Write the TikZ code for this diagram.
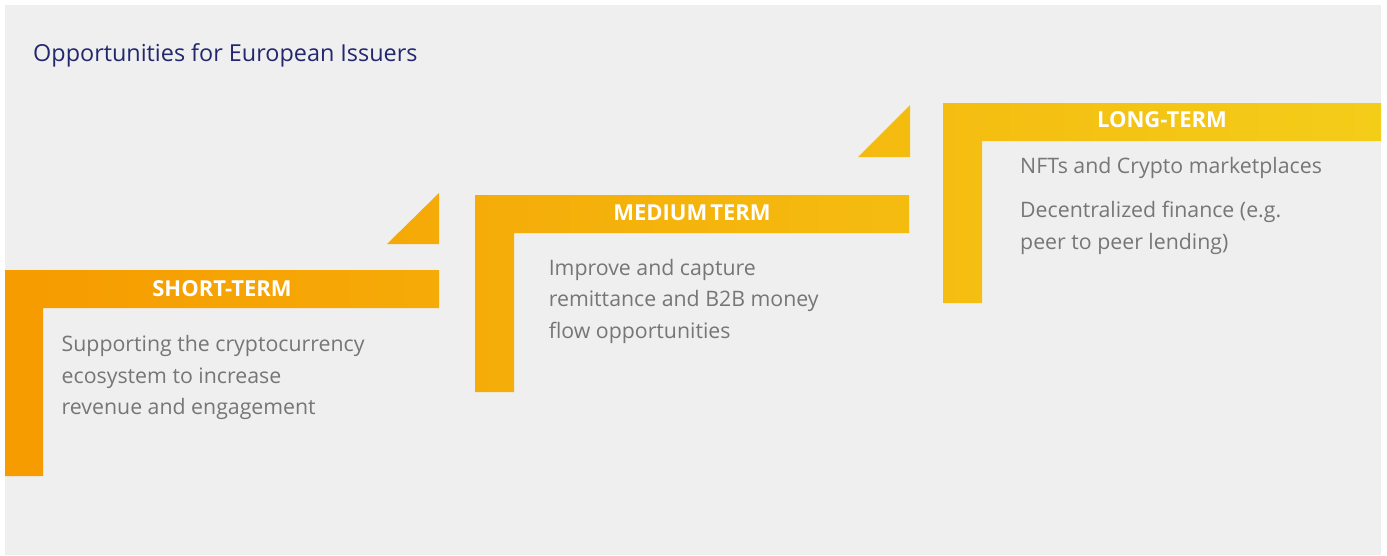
\documentclass[tikz,border=0pt]{standalone}
\usepackage{fontspec}
\setmainfont{Open Sans}
\definecolor{bgc}{HTML}{EFEFEF}
\definecolor{navy}{HTML}{22276E}
\definecolor{bodyc}{HTML}{767676}
\definecolor{orA}{HTML}{F69B00}
\definecolor{orB}{HTML}{F4CD19}
\tikzset{
  titletext/.style={font=\fontsize{23.4}{27}\selectfont, text=navy, inner sep=0pt},
  headtext/.style={font=\fontsize{22}{26}\selectfont\bfseries, text=white, inner sep=0pt, anchor=base},
  bodytext/.style={font=\fontsize{21.3}{31.5}\selectfont, text=bodyc, inner sep=0pt, anchor=base west},
}
\begin{document}
\begin{tikzpicture}[x=1pt,y=-1pt]
\useasboundingbox (0,0) rectangle (1387,555);
\fill[white] (0,0) rectangle (1387,555);
\fill[bgc] (5,5) rectangle (1381,555);
% stair shapes with a common left-to-right shading
\begin{scope}
  \clip (5,270) -- (439,270) -- (439,308) -- (43,308) -- (43,476) -- (5,476) -- cycle
        (387,244) -- (439,244) -- (439,193) -- cycle
        (475,195) -- (909,195) -- (909,233) -- (514,233) -- (514,392) -- (475,392) -- cycle
        (858,157) -- (910,157) -- (910,105) -- cycle
        (943,103) -- (1381,103) -- (1381,141) -- (982,141) -- (982,303) -- (943,303) -- cycle;
  \shade[left color=orA, right color=orB] (5,100) rectangle (1381,480);
\end{scope}
% title
\node[titletext, anchor=base west] (title) at (33,61.5) {Opportunities for European Issuers};
% headings
\node[headtext] (hshort) at (222,296.7) {SHORT-TERM};
\node[headtext] (hmed) at (692,220.7) {MEDIUM\hspace{-0.12em} TERM};
\node[headtext] (hlong) at (1162,127.7) {LONG-TERM};
% short-term text
\node[bodytext] (s1) at (61.5,351.7) {Supporting the cryptocurrency};
\node[bodytext] (s2) at (61.5,383) {ecosystem to increase};
\node[bodytext] (s3) at (61.5,414.5) {revenue and engagement};
% medium-term text
\node[bodytext] (m1) at (548.6,275) {Improve and capture};
\node[bodytext] (m2) at (548.6,306.7) {remittance and B2B money};
\node[bodytext] (m3) at (548.6,338) {flow opportunities};
% long-term text
\node[bodytext] (l1) at (1020,173.3) {NFTs and Crypto marketplaces};
\node[bodytext] (l2) at (1020,217.7) {Decentralized finance (e.g.};
\node[bodytext] (l3) at (1020,249.3) {peer to peer lending)};
\end{tikzpicture}
\end{document}
